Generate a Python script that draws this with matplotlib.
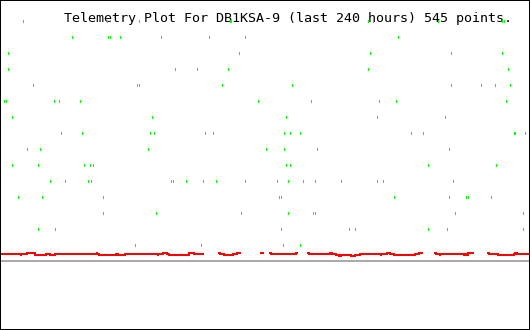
import numpy as np
import matplotlib
matplotlib.use("Agg")
import matplotlib.pyplot as plt
from matplotlib.patches import Rectangle

title = "Telemetry Plot For DB1KSA-9 (last 240 hours) 545 points."
nan = np.nan

# Green channel: hours (0..240) per discrete level
green_levels = {
    15: [10.4, 48.0, 62.9, 103.7, 104.2, 166.6, 168.9, 197.9, 227.3, 227.8],
    14: [32.6, 48.9, 49.4, 53.9, 72.5, 94.2, 110.9, 179.8],
    13: [3.6, 107.8, 167.5, 203.8, 226.9],
    12: [3.2, 78.8, 88.8, 102.8, 166.2, 229.6],
    11: [14.5, 62.0, 62.5, 100.1, 132.2, 204.2, 217.8, 223.7, 230.5],
    10: [1.4, 2.7, 24.0, 26.7, 36.2, 116.4, 140.8, 171.6, 178.9, 229.1],
    9: [5.4, 68.8, 129.5, 170.3, 201.1],
    8: [27.6, 37.1, 67.5, 69.3, 92.8, 96.0, 128.6, 131.3, 135.8, 186.1, 191.1, 232.3, 233.2, 237.3],
    7: [11.8, 17.7, 67.0, 120.0, 128.2, 143.1, 203.3],
    6: [5.4, 17.2, 37.6, 40.3, 41.7, 129.1, 130.9, 193.8, 224.2],
    5: [22.2, 29.4, 39.4, 39.8, 41.2, 77.4, 78.3, 83.8, 91.5, 97.8, 110.5, 125.4, 130.0,
        136.8, 142.6, 154.4, 170.7, 173.0, 204.7, 205.1],
    4: [7.7, 19.0, 46.2, 126.3, 126.8, 178.4, 202.9, 211.0, 211.5, 222.3],
    3: [46.6, 70.2, 109.1, 130.4, 141.7, 142.2, 205.6, 236.4],
    2: [16.8, 24.9, 127.2, 157.6, 160.3, 193.4, 202.4, 236.8],
    1: [61.1, 91.0, 127.7, 135.4],
}
green_t = [t for v, ts in green_levels.items() for t in ts]
green_v = [v for v, ts in green_levels.items() for t in ts]

# Red channel: run starts (hours) and values (nan = no data)
U, B, L, LL = 0.53, 0.44, 0.38, 0.31
red_t = [0.0, 9.1, 9.5, 11.8, 15.4, 20.4, 22.6, 24.9, 43.5, 43.9, 44.8, 52.5, 53.0, 56.2,
         71.1, 71.5, 73.8, 75.6, 76.1, 85.3, 87.4, 91.5, 91.9,
         98.3, 99.2, 101.0, 105.1, 107.3, 108.7,
         117.3, 119.1,
         121.4, 122.7, 134.0, 134.9,
         138.6, 139.5, 149.0, 149.9, 151.7, 153.5, 154.4, 158.5, 160.3, 162.6, 172.1, 172.5,
         174.8, 176.2, 178.0, 187.5, 189.3, 191.1,
         196.1, 197.4, 198.8, 199.2, 210.1, 210.6, 211.5, 211.9, 214.2,
         220.1, 221.0, 225.1, 232.3, 233.2, 234.1, 239.1]
red_v = [B, L, B, U, L, B, L, B, U, B, L, B, L, B,
         L, B, U, B, L, U, B, U, nan,
         U, B, L, B, U, nan,
         U, nan,
         U, B, U, nan,
         U, B, U, B, L, LL, L, LL, L, B, L, B,
         U, B, L, B, U, nan,
         U, B, L, B, L, B, L, U, nan,
         U, B, L, B, U, B, nan]

fig = plt.figure(figsize=(5.3, 3.3), dpi=100)
ax = fig.add_axes([0, 0, 1, 1])
ax.axis('off')
ax.set_xlim(-0.23, 239.77)
ax.set_ylim(-69 / 16, 261 / 16)

ax.text(63.5 / 530, 1 - 22 / 330, title, transform=ax.transAxes,
        family='DejaVu Sans Mono', fontsize=9.6, va='baseline', ha='left',
        color='black', zorder=1)

ax.axhline(0, color='#aaaaaa', lw=1.44, antialiased=False, zorder=2)
ax.plot(red_t, red_v, drawstyle='steps-post', color='#ff0000', lw=1.44,
        antialiased=False, solid_capstyle='butt', zorder=3)
gv = np.array(green_v, dtype=float)
ax.vlines(green_t, gv - 1 / 16, gv + 1 / 16, colors='#00ff00', lw=0.72,
          antialiased=False, zorder=4)

fig.patches.append(Rectangle((0, 0), 1, 1, transform=fig.transFigure, fill=False,
                             ec='black', lw=1.44))
fig.savefig('out.png', dpi=100)
